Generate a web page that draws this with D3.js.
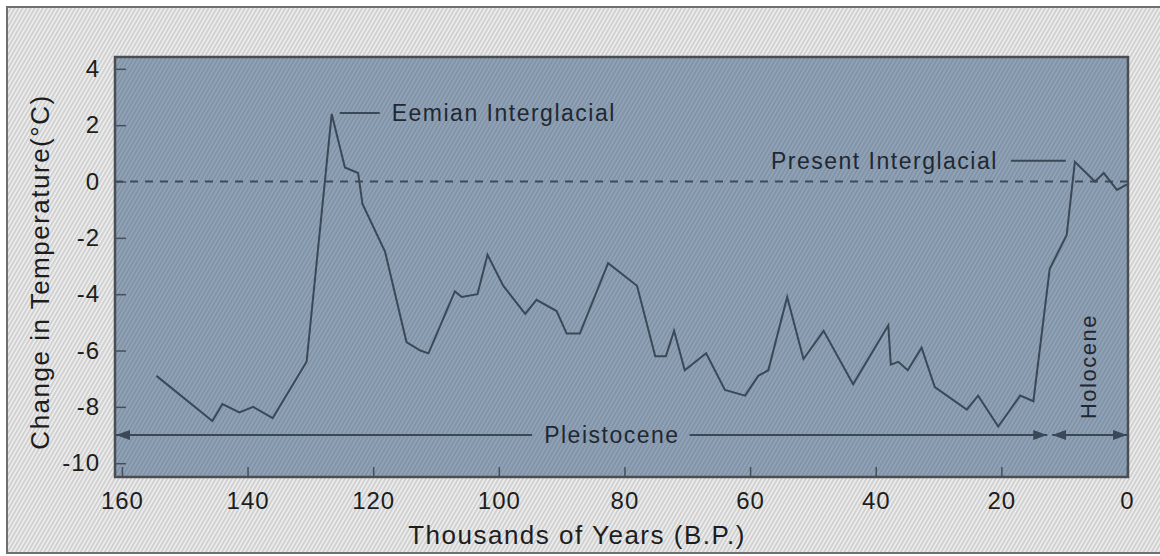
<!DOCTYPE html>
<meta charset="utf-8">
<head>
	<title>Temperature change, last 160,000 years</title>
</head>

<style>
	body {
		margin: 0;
		background: #fff;
		font-family: "Liberation Sans", Arial, Helvetica, sans-serif;
	}
	svg {
		display: block;
	}
	.tick text {
		font-size: 24px;
		fill: #1d1d1d;
		letter-spacing: 1px;
	}
	.tick line {
		stroke: #44505c;
		stroke-width: 1.5px;
	}
	.temp {
		fill: none;
		stroke: #3a4858;
		stroke-width: 2px;
	}
	.zero {
		stroke: #3e4b5a;
		stroke-width: 2px;
		stroke-dasharray: 8 7;
	}
	.note {
		font-size: 23px;
		letter-spacing: 1.5px;
		fill: #1f2833;
	}
	.leader, .period {
		stroke: #3a4858;
		stroke-width: 2px;
	}
	.title {
		font-size: 26px;
		letter-spacing: 1.5px;
		fill: #1d1d1d;
	}
</style>

<body>
	<svg width="1160" height="556"></svg>

	<script src="https://d3js.org/d3.v7.min.js"></script>

	<script>
		// thousands of years before present
		var years = [154.5, 145.6, 144.0, 141.3, 139.1, 136.0, 130.6, 126.6, 124.5, 122.4,
			121.7, 118.1, 114.7, 112.5, 111.2, 107.0, 105.9, 103.4, 101.8, 99.3,
			95.8, 94.0, 90.8, 89.2, 87.1, 82.6, 78.0, 75.1, 73.4, 72.1,
			70.4, 67.0, 64.0, 60.8, 58.7, 57.1, 54.1, 51.5, 48.3, 43.6,
			38.0, 37.6, 36.4, 34.9, 32.7, 30.6, 25.5, 23.7, 20.5, 17.0,
			14.9, 12.3, 9.6, 8.3, 5.1, 3.7, 1.6, 0];
		// change in temperature, degrees C
		var temps = [-6.9, -8.5, -7.9, -8.2, -8.0, -8.4, -6.4, 2.4, 0.5, 0.3,
			-0.8, -2.5, -5.7, -6.0, -6.1, -3.9, -4.1, -4.0, -2.6, -3.7,
			-4.7, -4.2, -4.6, -5.4, -5.4, -2.9, -3.7, -6.2, -6.2, -5.3,
			-6.7, -6.1, -7.4, -7.6, -6.9, -6.7, -4.1, -6.3, -5.3, -7.2,
			-5.1, -6.5, -6.4, -6.7, -5.9, -7.3, -8.1, -7.6, -8.7, -7.6,
			-7.8, -3.1, -1.9, 0.7, 0.0, 0.3, -0.3, -0.1];

		var xTicks = [160, 140, 120, 100, 80, 60, 40, 20, 0];
		var yTicks = [4, 2, 0, -2, -4, -6, -8, -10];

		var noteText = ["Eemian Interglacial", "Present Interglacial"];
		var noteYear = [126.6, 8.3];

		var periodNames = ["Pleistocene", "Holocene"];
		var periodStart = [161.1, 12.3];
		var periodEnd = [12.3, 0];
		var periodTemp = -9;

		var margin = {top: 57, left: 115},
			width = 1013,
			height = 420;

		var svg = d3.select("svg");
		var defs = svg.append("defs");

		// scanned-paper hatching
		var hatch = function(id, base, stripe, op) {
			var p = defs.append("pattern")
				.attr("id", id)
				.attr("patternUnits", "userSpaceOnUse")
				.attr("width", 3.5)
				.attr("height", 3.5)
				.attr("patternTransform", "rotate(30)");
			p.append("rect").attr("width", 3.5).attr("height", 3.5).attr("fill", base);
			p.append("line")
				.attr("x1", 1).attr("y1", 0).attr("x2", 1).attr("y2", 3.5)
				.attr("stroke", stripe).attr("stroke-width", 1.3).attr("stroke-opacity", op);
		};
		hatch("paper", "#d0d0d0", "#ffffff", 0.8);
		hatch("panel", "#8093a8", "#b9c6d3", 0.4);

		defs.append("marker")
			.attr("id", "head")
			.attr("viewBox", "0 0 14 10")
			.attr("refX", 14)
			.attr("refY", 5)
			.attr("markerUnits", "userSpaceOnUse")
			.attr("markerWidth", 14)
			.attr("markerHeight", 10)
			.attr("orient", "auto-start-reverse")
		.append("path")
			.attr("d", "M0,0L14,5L0,10z")
			.attr("fill", "#3a4858");

		svg.append("rect")
			.attr("x", 7).attr("y", 7)
			.attr("width", 1170).attr("height", 546)
			.attr("fill", "url(#paper)")
			.attr("stroke", "#707070")
			.attr("stroke-width", 2);

		var g = svg.append("g")
			.attr("transform", "translate(" + margin.left + "," + margin.top + ")");

		var x = d3.scaleLinear().domain([161.1, 0]).range([0, width - 1]);
		var y = d3.scaleLinear().domain([-10.49, 4.42]).range([height, 0]);

		g.append("rect")
			.attr("width", width).attr("height", height)
			.attr("fill", "url(#panel)");

		// axes, ticks pointing inward, plain hyphen for negatives
		var plain = function(d) { return String(d); };

		g.append("g")
			.call(d3.axisLeft(y).tickValues(yTicks).tickFormat(plain)
				.tickSizeInner(-11).tickSizeOuter(0).tickPadding(15))
			.call(function(s) { s.select(".domain").remove(); });

		g.append("g")
			.attr("transform", "translate(0," + height + ")")
			.call(d3.axisBottom(x).tickValues(xTicks).tickFormat(plain)
				.tickSizeInner(-10).tickSizeOuter(0).tickPadding(15))
			.call(function(s) { s.select(".domain").remove(); });

		g.append("rect")
			.attr("width", width).attr("height", height)
			.attr("fill", "none")
			.attr("stroke", "#4a4d52")
			.attr("stroke-width", 2.5);

		g.append("line")
			.attr("class", "zero")
			.attr("x1", 0).attr("x2", width)
			.attr("y1", y(0)).attr("y2", y(0));

		var line = d3.line()
			.x(function(d, i) { return x(years[i]); })
			.y(function(d) { return y(d); });

		g.append("path")
			.datum(temps)
			.attr("class", "temp")
			.attr("d", line);

		// interglacial labels
		var peak0 = temps[years.indexOf(noteYear[0])];
		var px0 = x(noteYear[0]), py0 = y(peak0) - 1;
		g.append("line").attr("class", "leader")
			.attr("x1", px0 + 8).attr("x2", px0 + 48).attr("y1", py0).attr("y2", py0);
		g.append("text").attr("class", "note")
			.attr("x", px0 + 60).attr("y", py0 + 8)
			.text(noteText[0]);

		var peak1 = temps[years.indexOf(noteYear[1])];
		var px1 = x(noteYear[1]), py1 = y(peak1) - 1;
		g.append("line").attr("class", "leader")
			.attr("x1", px1 - 64).attr("x2", px1 - 9).attr("y1", py1).attr("y2", py1);
		g.append("text").attr("class", "note")
			.attr("x", px1 - 77).attr("y", py1 + 8)
			.attr("text-anchor", "end")
			.text(noteText[1]);

		// period arrows
		var ay = y(periodTemp);
		var pText = g.append("text").attr("class", "note")
			.attr("x", x(82)).attr("y", ay + 8)
			.attr("text-anchor", "middle")
			.text(periodNames[0]);
		var bb = pText.node().getBBox();

		g.append("line").attr("class", "period")
			.attr("x1", bb.x - 12).attr("x2", x(periodStart[0]) + 1)
			.attr("y1", ay).attr("y2", ay)
			.attr("marker-end", "url(#head)");
		g.append("line").attr("class", "period")
			.attr("x1", bb.x + bb.width + 10).attr("x2", x(periodEnd[0]) - 2.5)
			.attr("y1", ay).attr("y2", ay)
			.attr("marker-end", "url(#head)");
		g.append("line").attr("class", "period")
			.attr("x1", x(periodStart[1]) + 2.5).attr("x2", x(periodEnd[1]))
			.attr("y1", ay).attr("y2", ay)
			.attr("marker-start", "url(#head)")
			.attr("marker-end", "url(#head)");

		var hx = (x(periodStart[1]) + x(periodEnd[1])) / 2;
		g.append("text").attr("class", "note")
			.attr("transform", "translate(" + (hx + 8) + "," + (ay - 16) + ") rotate(-90)")
			.attr("text-anchor", "start")
			.style("font-size", "22px")
			.text(periodNames[1]);

		// axis titles
		svg.append("text").attr("class", "title")
			.attr("x", 577).attr("y", 544)
			.attr("text-anchor", "middle")
			.text("Thousands of Years (B.P.)");

		svg.append("text").attr("class", "title")
			.attr("transform", "translate(49,272) rotate(-90)")
			.attr("text-anchor", "middle")
			.text("Change in Temperature(°C)");
	</script>
</body>
</html>
